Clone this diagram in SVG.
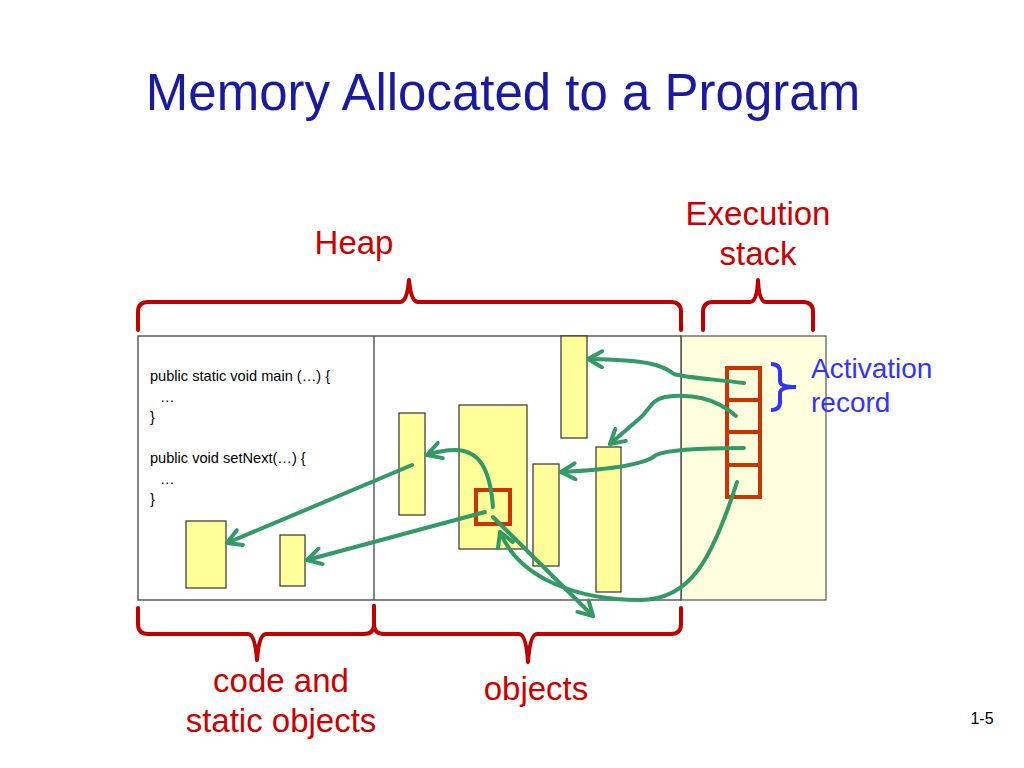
<svg xmlns="http://www.w3.org/2000/svg" width="1024" height="768" viewBox="0 0 1024 768">
<style>
  .obj{fill:#FFFF99;stroke:#333;stroke-width:1.2}
  .brk{fill:none;stroke:#C00000;stroke-width:4;stroke-linejoin:round;stroke-linecap:round}
  .lbl{font-family:"Liberation Sans",Arial,sans-serif;font-size:33px;fill:#CC0000;text-anchor:middle}
  .code{font-family:"Liberation Sans",Arial,sans-serif;font-size:14.6px;fill:#000}
  .arr{fill:none;stroke:#339966;stroke-width:4;stroke-linecap:round;marker-end:url(#ah)}
  .stk{fill:none;stroke:#CC3300;stroke-width:4}
</style>
<defs>
  <marker id="ah" markerUnits="userSpaceOnUse" viewBox="0 0 20 20" refX="17" refY="10" markerWidth="20" markerHeight="20" orient="auto">
    <path d="M3,2 L17,10 L3,18" fill="none" stroke="#339966" stroke-width="4" stroke-linecap="round" stroke-linejoin="round"/>
  </marker>
</defs>
<rect width="1024" height="768" fill="#fff"/>
<text x="503" y="110" font-family="Liberation Sans,Arial,sans-serif" font-size="51" fill="#1A1AA0" text-anchor="middle">Memory Allocated to a Program</text>

<g id="memory">
  <rect x="681" y="336" width="145" height="264" fill="#FFFFDD" stroke="#555" stroke-width="1.2"/>
  <rect x="138" y="336" width="543" height="264" fill="#fff" stroke="#333" stroke-width="1.2"/>
  <line x1="374" y1="336" x2="374" y2="600" stroke="#333" stroke-width="1.2"/>
</g>

<g id="code">
  <text class="code" x="150" y="381">public static void main (…) {</text>
  <text class="code" x="160" y="402">…</text>
  <text class="code" x="150" y="422">}</text>
  <text class="code" x="150" y="463">public void setNext(…) {</text>
  <text class="code" x="160" y="484">…</text>
  <text class="code" x="150" y="504">}</text>
</g>

<g id="static1"><rect class="obj" x="186" y="521" width="40" height="67"/></g>
<g id="static2"><rect class="obj" x="280" y="535" width="25" height="51"/></g>
<g id="obj1"><rect class="obj" x="561" y="336" width="26" height="102"/></g>
<g id="obj2"><rect class="obj" x="399" y="413" width="26" height="102"/></g>
<g id="obj3"><rect class="obj" x="459" y="405" width="68" height="144"/></g>
<g id="obj3ref"><rect x="476" y="490" width="34" height="34" fill="none" stroke="#CC3300" stroke-width="4"/></g>
<g id="obj4"><rect class="obj" x="533" y="464" width="26" height="102"/></g>
<g id="obj5"><rect class="obj" x="596" y="447" width="25" height="145"/></g>

<g id="stack">
  <rect class="stk" x="727" y="368" width="33" height="129"/>
  <line class="stk" x1="727" y1="400" x2="760" y2="400"/>
  <line class="stk" x1="727" y1="432" x2="760" y2="432"/>
  <line class="stk" x1="727" y1="465" x2="760" y2="465"/>
</g>

<g id="activation">
  <path d="M771,364 Q780,364 780,372 L780,381 Q780,387 796,387 Q780,387 780,393 L780,402 Q780,410 771,410" fill="none" stroke="#3333FF" stroke-width="4"/>
  <text x="811" y="378" font-family="Liberation Sans,Arial,sans-serif" font-size="28" fill="#3333FF">Activation</text>
  <text x="811" y="412" font-family="Liberation Sans,Arial,sans-serif" font-size="28" fill="#3333FF">record</text>
</g>

<g id="brackets">
  <path class="brk" d="M138,330 L138,312 Q138,302 148,302 L400,302 Q407,302 409,280 Q411,302 418,302 L671,302 Q681,302 681,312 L681,330"/>
  <path class="brk" d="M703,330 L703,312 Q703,302 713,302 L750,302 Q757,302 758,280 Q759,302 766,302 L803,302 Q813,302 813,312 L813,330"/>
  <path class="brk" d="M138,608 L138,624 Q138,634 148,634 L248,634 Q255,634 257,660 Q259,634 266,634 L364,634 Q374,634 374,624 L374,606"/>
  <path class="brk" d="M374,606 L374,624 Q374,634 384,634 L519,634 Q526,634 528,662 Q530,634 537,634 L671,634 Q681,634 681,624 L681,608"/>
</g>

<g id="labels">
  <text class="lbl" x="354" y="254">Heap</text>
  <text class="lbl" x="758" y="225">Execution</text>
  <text class="lbl" x="758" y="265">stack</text>
  <text class="lbl" x="281" y="692">code and</text>
  <text class="lbl" x="281" y="732">static objects</text>
  <text class="lbl" x="536" y="700">objects</text>
</g>

<g id="connectors">
  <path class="arr" d="M744,383 C712,379 688,378 674,374 C662,365 650,360 588,359"/>
  <path class="arr" d="M736,416 C716,398 690,393 665,397 C650,400 650,410 640,418 L610,444"/>
  <path class="arr" d="M744,448 C702,448 667,450 656,455 C645,465 602,470 561,472"/>
  <path class="arr" d="M737,482 C712,560 690,600 640,600 C580,600 520,580 500,532"/>
  <path class="arr" d="M493,517 L593,616"/>
  <path class="arr" d="M493,507 C490,470 480,450 455,450 C445,450 436,452 427,455"/>
  <path class="arr" d="M485,512 L307,560"/>
  <path class="arr" d="M412,465 L227,543"/>
</g>

<text x="982" y="724" font-family="Liberation Sans,Arial,sans-serif" font-size="16" fill="#000" text-anchor="middle">1-5</text>
</svg>
